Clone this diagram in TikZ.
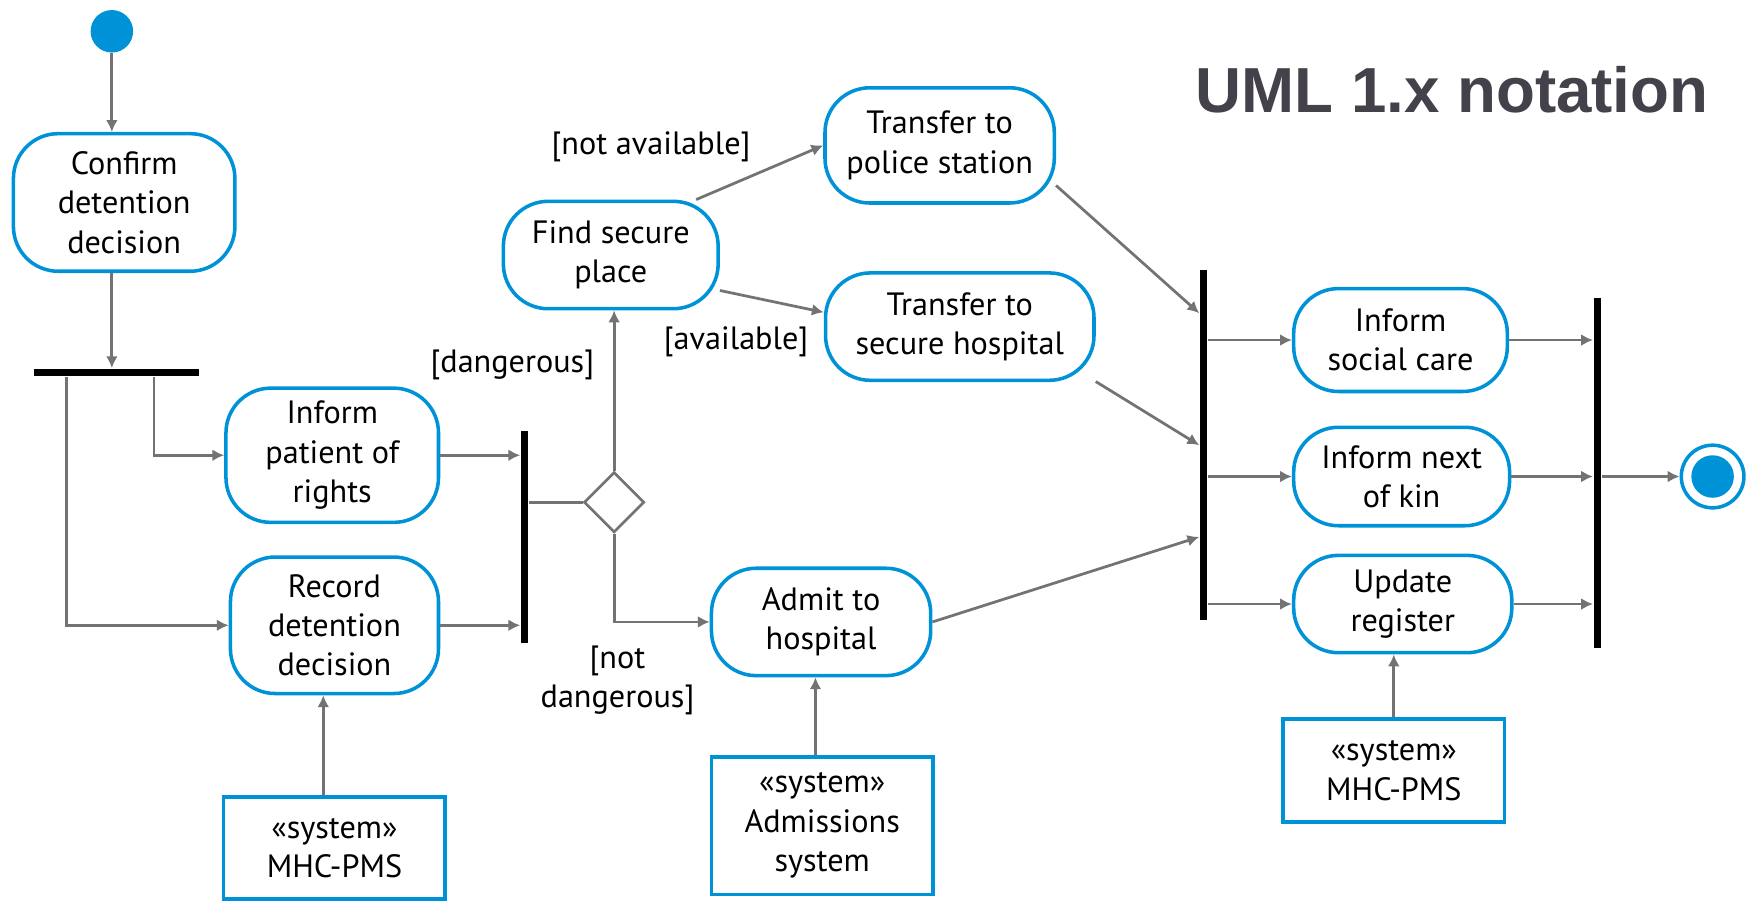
\documentclass[tikz,border=0pt]{standalone}
\usepackage{fontspec}
\setsansfont{PT Sans}
\newfontfamily\titlefont{Liberation Sans}
\usetikzlibrary{arrows.meta,shapes.geometric}

\definecolor{umlblue}{RGB}{0,146,214}
\definecolor{flowgray}{RGB}{115,115,115}
\definecolor{titlegray}{RGB}{68,65,75}

\begin{document}
\begin{tikzpicture}[x=0.1mm,y=-0.1mm,
    act/.style={draw=umlblue, line width=0.9pt, rounded corners=4mm, align=center,
        inner sep=1pt, font=\sffamily\fontsize{8.2}{10}\selectfont},
    sysbox/.style={draw=umlblue, line width=0.9pt, align=center,
        inner sep=1pt, font=\sffamily\fontsize{8.2}{10}\selectfont},
    guard/.style={align=center, inner sep=1pt, font=\sffamily\fontsize{8.2}{10}\selectfont},
    flow/.style={draw=flowgray, line width=0.7pt, -{Latex[length=3pt,width=3pt]}},
    link/.style={draw=flowgray, line width=0.7pt},
    hbar/.style={fill=black, inner sep=0pt, minimum height=0.65mm},
    vbar/.style={fill=black, inner sep=0pt, minimum width=0.65mm},
    decision/.style={diamond, draw=flowgray, line width=0.7pt, inner sep=0pt,
        minimum width=5.4mm, minimum height=5.4mm},
    startstate/.style={circle, fill=umlblue, inner sep=0pt, minimum size=3.8mm},
    endstate/.style={circle, draw=umlblue, line width=0.9pt, inner sep=0pt, minimum size=5.6mm,
        path picture={\fill[umlblue] (path picture bounding box.center) circle (1.9mm);}}]

    \useasboundingbox (0,0) rectangle (1568,806);

    % Title
    \node[font=\titlefont\bfseries\fontsize{16.2}{18}\selectfont, text=titlegray] (title) at (1298,80) {UML 1.x notation};

    % Activities
    \node[startstate] (start) at (100,28) {};
    \node[act, minimum width=19.8mm, minimum height=12.3mm] (confirm) at (111,181) {Confirm\\detention\\decision};
    \node[hbar, minimum width=14.8mm] (fork) at (104,333) {};
    \node[act, minimum width=19mm, minimum height=12mm] (patient) at (297,407) {Inform\\patient of\\rights};
    \node[act, minimum width=18.6mm, minimum height=12.2mm] (record) at (299,559) {Record\\detention\\decision};
    \node[vbar, minimum height=19mm] (join) at (469,480) {};
    \node[decision] (dec) at (549,449) {};
    \node[act, minimum width=19.2mm, minimum height=9.6mm] (find) at (546,228) {Find secure\\place};
    \node[act, minimum width=20.5mm, minimum height=10.3mm] (police) at (840,130) {Transfer to\\police station};
    \node[act, minimum width=24mm, minimum height=9.6mm] (secure) at (858,292) {Transfer to\\secure hospital};
    \node[act, minimum width=19.6mm, minimum height=9.6mm] (admit) at (734,556) {Admit to\\hospital};
    \node[vbar, minimum height=31.3mm] (fork2) at (1076,398) {};
    \node[act, minimum width=19.1mm, minimum height=9.2mm] (social) at (1252,304) {Inform\\social care};
    \node[act, minimum width=19.3mm, minimum height=8.8mm] (kin) at (1253,426) {Inform next\\of kin};
    \node[act, minimum width=19.5mm, minimum height=8.7mm] (update) at (1254,540) {Update\\register};
    \node[vbar, minimum height=31.3mm] (join2) at (1428,423) {};
    \node[endstate] (final) at (1531,426) {};

    % Systems
    \node[sysbox, minimum width=19.8mm, minimum height=9.1mm] (pms1) at (299,758) {«system»\\MHC-PMS};
    \node[sysbox, minimum width=19.8mm, minimum height=12.3mm] (admsys) at (735,738) {«system»\\Admissions\\system};
    \node[sysbox, minimum width=19.8mm, minimum height=9.2mm] (pms2) at (1246,689) {«system»\\MHC-PMS};

    % Guards
    \node[guard] (gdang) at (458,326) {[dangerous]};
    \node[guard] (gnotdang) at (552,608) {[not\\dangerous]};
    \node[guard] (gnotav) at (582,131) {[not available]};
    \node[guard] (gav) at (658,306) {[available]};

    % Flows
    \draw[flow] (start.south) -- (start.south |- confirm.north);
    \draw[flow] (start |- confirm.south) -- (start |- fork.north);
    \draw[flow] ([xshift=3mm]fork.south west) |- (record.west);
    \draw[flow] ([xshift=-4.1mm]fork.south east) |- (patient.west);
    \draw[flow] (patient.east) -- (patient.east -| join.west);
    \draw[flow] (record.east) -- (record.east -| join.west);
    \draw[link] (join.east |- dec.west) -- (dec.west);
    \draw[flow] (dec.north) -- (dec.north |- find.south);
    \draw[flow] (dec.south) |- (admit.west);
    \draw[flow] (find.33) -- (police.west);
    \draw[flow] (find.-18) -- (secure.174);
    \draw[flow] (police.-19) -- ([yshift=11.8mm]fork2.west);
    \draw[flow] (secure.-22) -- (fork2.west);
    \draw[flow] (admit.east) -- ([yshift=-8.2mm]fork2.west);
    \draw[flow] (fork2.east |- social.west) -- (social.west);
    \draw[flow] (fork2.east |- kin.west) -- (kin.west);
    \draw[flow] (fork2.east |- update.west) -- (update.west);
    \draw[flow] (social.east) -- (social.east -| join2.west);
    \draw[flow] (kin.east) -- (kin.east -| join2.west);
    \draw[flow] (update.east) -- (update.east -| join2.west);
    \draw[flow] (join2.east |- final.west) -- (final.west);

    % System links
    \draw[flow] ([xshift=-1mm]pms1.north) -- ([xshift=-1mm]pms1.north |- record.south);
    \draw[flow] ([xshift=-0.6mm]admsys.north) -- ([xshift=-0.6mm]admsys.north |- admit.south);
    \draw[flow] (pms2.north) -- (pms2.north |- update.south);

\end{tikzpicture}
\end{document}
